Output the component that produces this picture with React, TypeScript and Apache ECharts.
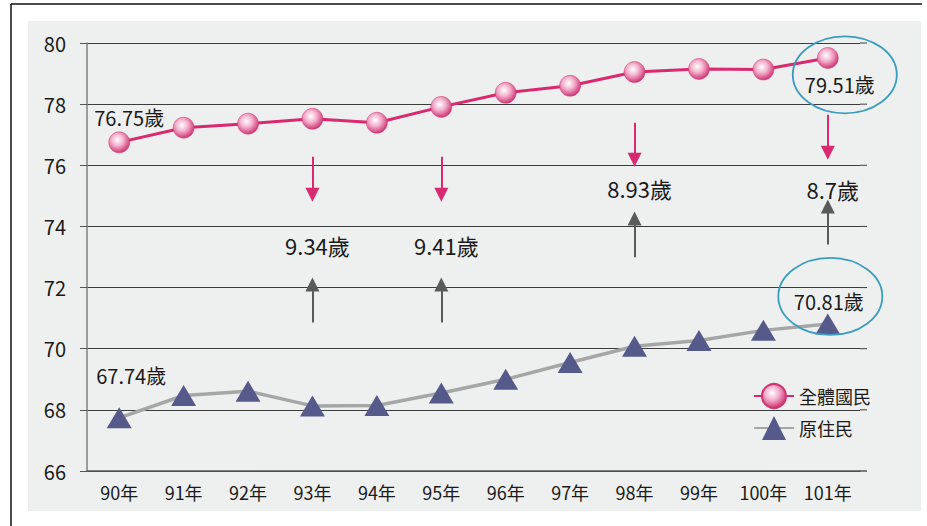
import React, { useEffect, useRef } from "react";
import * as echarts from "echarts";

const categories = ["90年", "91年", "92年", "93年", "94年", "95年", "96年", "97年", "98年", "99年", "100年", "101年"];
const allPeople = [76.75, 77.23, 77.36, 77.52, 77.39, 77.91, 78.37, 78.6, 79.05, 79.15, 79.13, 79.51];
const indigenous = [67.74, 68.47, 68.61, 68.13, 68.14, 68.55, 69.0, 69.55, 70.08, 70.27, 70.6, 70.81];
const yTicks = [66, 68, 70, 72, 74, 76, 78, 80];

// [category, start value, tip value]
const pinkArrows: [string, number, number][] = [
  ["93年", 76.28, 74.81],
  ["95年", 76.28, 74.81],
  ["98年", 77.39, 75.95],
  ["101年", 77.65, 76.18],
];
const grayArrows: [string, number, number][] = [
  ["93年", 70.86, 72.33],
  ["95年", 70.86, 72.33],
  ["98年", 72.99, 74.49],
  ["101年", 73.41, 74.88],
];
// [category, value, text]
const gapLabels: [string, number, string][] = [
  ["93年", 73.38, "9.34歲"],
  ["95年", 73.38, "9.41歲"],
  ["98年", 75.27, "8.93歲"],
  ["101年", 75.22, "8.7歲"],
];
const allLabels: [string, number, string, number][] = [
  ["90年", 77.55, "76.75歲", 10],
  ["101年", 78.63, "79.51歲", 12],
];
const indLabels: [string, number, string, number][] = [
  ["90年", 69.14, "67.74歲", 12],
  ["101年", 71.56, "70.81歲", 1],
];
// ellipse centres [category index, value, x shift]
const ellipses: [number, number, number][] = [
  [11, 78.96, 17],
  [11, 71.71, 2.5],
];

const FONT = "Noto Sans CJK TC";
const TIP = 0.23;

export default function App() {
  const ref = useRef<HTMLDivElement>(null);
  useEffect(() => {
    document.body.style.margin = "0";
    const chart = echarts.init(ref.current!, undefined, { renderer: "svg" });
    const gridLeft = 87;
    const gridRight = 927 - 67;
    const pinkGrad = new echarts.graphic.RadialGradient(0.42, 0.38, 0.62, [
      { offset: 0, color: "#ffffff" },
      { offset: 0.45, color: "#f4b3cf" },
      { offset: 1, color: "#cf3574" },
    ]);
    const mkArrows = (arr: [string, number, number][], down: boolean) =>
      arr.map(([c, a, b]) => [
        { coord: [c, a] },
        { coord: [c, down ? b + TIP : b - TIP] },
      ]);
    const mkLabels = (arr: any[]) =>
      arr.map((d) => ({
        coord: [d[0], d[1]],
        value: d[2],
        label: { offset: [d[3] !== undefined ? d[3] : 5, 0] },
      }));
    const markPointStyle = (size: number) => ({
      symbol: "circle",
      symbolSize: 1,
      silent: true,
      itemStyle: { color: "rgba(0,0,0,0)" },
      label: {
        show: true,
        position: "inside",
        formatter: (p: any) => p.value,
        color: "#1a1a1a",
        fontSize: size,
        fontFamily: FONT,
      },
    });

    chart.setOption({
      animation: false,
      textStyle: { fontFamily: FONT },
      grid: { left: gridLeft, right: 67, top: 43, bottom: 55 },
      legend: {
        orient: "vertical",
        left: 748,
        top: 378,
        itemWidth: 40,
        itemHeight: 30,
        itemGap: 7,
        textStyle: { fontSize: 18, color: "#1a1a1a", fontFamily: FONT },
        data: ["全體國民", "原住民"],
      },
      xAxis: {
        type: "category",
        data: categories,
        boundaryGap: true,
        axisLine: { lineStyle: { color: "#555", width: 1.5 } },
        axisTick: { inside: true, length: 8, lineStyle: { color: "#333" } },
        axisLabel: { fontSize: 18, color: "#1a1a1a", margin: 12, fontFamily: FONT },
      },
      yAxis: {
        type: "value",
        min: 66,
        max: 80,
        interval: 2,
        axisLine: { show: true, lineStyle: { color: "#808080", width: 1.5 } },
        axisTick: { show: true, length: 7, lineStyle: { color: "#555" } },
        axisLabel: { fontSize: 20, color: "#1a1a1a", margin: 21, fontFamily: FONT },
        splitLine: { lineStyle: { color: "#3c3c3c", width: 1 } },
      },
      series: [
        {
          name: "全體國民",
          type: "line",
          data: allPeople,
          symbol: "circle",
          symbolSize: 21,
          itemStyle: { color: pinkGrad, borderColor: "#d0356f", borderWidth: 0.5 },
          lineStyle: { color: "#d9296f", width: 3 },
          z: 3,
          markLine: {
            silent: true,
            symbol: ["none", "triangle"],
            symbolSize: 14,
            label: { show: false },
            lineStyle: { color: "#d9296f", width: 2, type: "solid" },
            data: mkArrows(pinkArrows, true),
          },
          markPoint: {
            ...markPointStyle(20),
            data: mkLabels(allLabels),
          },
        },
        {
          name: "原住民",
          type: "line",
          data: indigenous,
          symbol: "triangle",
          symbolSize: [25, 21],
          itemStyle: { color: "#555a8b" },
          lineStyle: { color: "#a6a6a6", width: 3.5 },
          z: 3,
          markLine: {
            silent: true,
            symbol: ["none", "triangle"],
            symbolSize: 14,
            label: { show: false },
            lineStyle: { color: "#5a5a5a", width: 2, type: "solid" },
            data: mkArrows(grayArrows, false),
          },
          markPoint: {
            ...markPointStyle(20),
            data: mkLabels(indLabels),
          },
        },
        {
          name: "gap",
          type: "line",
          data: [],
          markPoint: {
            ...markPointStyle(22),
            data: mkLabels(gapLabels),
          },
        },
      ],
    });

    const graphics: any[] = [
      { type: "rect", z: -100, silent: true, shape: { x: 0, y: 0, width: 927, height: 526 }, style: { fill: "#ffffff" } },
      { type: "line", z: -99, silent: true, shape: { x1: 11, y1: 4, x2: 922, y2: 4 }, style: { stroke: "#111", lineWidth: 1.5 } },
      { type: "line", z: -99, silent: true, shape: { x1: 11, y1: 4, x2: 11, y2: 526 }, style: { stroke: "#111", lineWidth: 1.5 } },
      { type: "rect", z: -98, silent: true, shape: { x: 28, y: 21, width: 893, height: 490 }, style: { fill: "#eef0ef" } },
    ];
    yTicks.forEach((v) => {
      const y = chart.convertToPixel({ yAxisIndex: 0 }, v) as number;
      graphics.push({
        type: "line",
        silent: true,
        shape: { x1: gridRight, y1: y, x2: gridRight + 7, y2: y },
        style: { stroke: v === 66 ? "#555" : "#3c3c3c", lineWidth: v === 66 ? 1.5 : 1 },
      });
    });
    ellipses.forEach(([ci, v, dx]) => {
      const p = chart.convertToPixel({ gridIndex: 0 }, [ci, v]) as number[];
      graphics.push({
        type: "ellipse",
        silent: true,
        z: 10,
        shape: { cx: p[0] + dx, cy: p[1], rx: 52, ry: 38.5 },
        style: { fill: "none", stroke: "#3a9dbf", lineWidth: 1.8 },
      });
    });
    chart.setOption({ graphic: graphics });

    return () => chart.dispose();
  }, []);
  return <div ref={ref} style={{ width: 927, height: 526 }} />;
}
